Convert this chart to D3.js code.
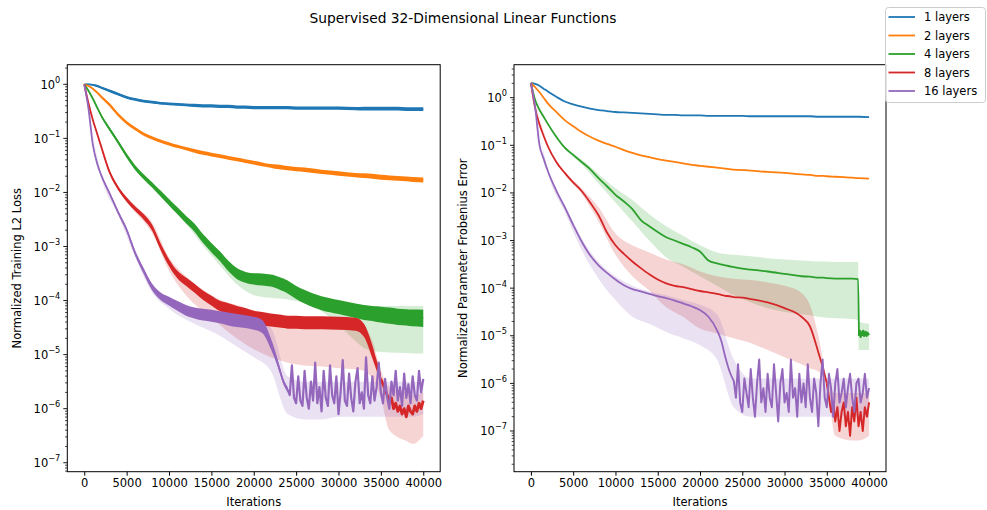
<!DOCTYPE html>
<html>
<head>
<meta charset="utf-8">
<script src="https://cdn.jsdelivr.net/npm/d3@7"></script>
<style>
  body { margin: 0; background: #fff; }
  text { font-family: "DejaVu Sans", sans-serif; fill: #000; }
</style>
</head>
<body>
<svg id="chart" width="987" height="510"></svg>
<script>
// all curve values are log10 exponents

const layerNames = ["1 layers", "2 layers", "4 layers", "8 layers", "16 layers"];
const colors = ["#1f77b4", "#ff7f0e", "#2ca02c", "#d62728", "#9467bd"];

// iteration grid of the mean curves
const iters = [
  0, 500, 1000, 1500, 2000,
  3000, 4000, 5000, 6000, 7000, 8000, 9000, 10000, 11000, 12000,
  13000, 14000, 15000, 16000, 17000, 18000, 19000, 20000, 21000, 22000,
  22500, 23000, 23500, 24000, 25000, 26000, 28000, 30000, 32000,
  33000, 34000, 34500, 35000, 36000, 37000, 38000, 38700, 38800, 40000
];
// iteration grid of the shaded bands
const bandIters = [
  0, 2000, 4000, 6000, 8000,
  10000, 12000, 14000, 16000, 18000,
  20000, 22000, 24000, 26000, 28000,
  30000, 32000, 33000, 34000, 35000,
  36000, 38000, 38700, 38800, 40000
];

// ---- left: training loss ----
const loss1 = [
  0, 0, -0.01, -0.03, -0.06,
  -0.12, -0.18, -0.24, -0.28, -0.31, -0.33, -0.35, -0.36, -0.37, -0.38,
  -0.39, -0.40, -0.40, -0.41, -0.41, -0.42, -0.42, -0.43, -0.43, -0.43,
  -0.43, -0.43, -0.43, -0.43, -0.44, -0.44, -0.44, -0.44, -0.45,
  -0.45, -0.45, -0.45, -0.45, -0.45, -0.45, -0.46, -0.46, -0.46, -0.46
];
const loss2 = [
  0, -0.03, -0.08, -0.15, -0.23,
  -0.38, -0.56, -0.71, -0.82, -0.92, -0.99, -1.05, -1.10, -1.15, -1.19,
  -1.23, -1.27, -1.30, -1.33, -1.36, -1.39, -1.42, -1.45, -1.48, -1.51,
  -1.52, -1.53, -1.54, -1.55, -1.57, -1.58, -1.62, -1.65, -1.68,
  -1.69, -1.70, -1.71, -1.72, -1.73, -1.74, -1.75, -1.76, -1.76, -1.77
];
const loss4 = [
  0, -0.12, -0.26, -0.42, -0.58,
  -0.83, -1.07, -1.32, -1.54, -1.71, -1.86, -2.02, -2.18, -2.34, -2.50,
  -2.65, -2.85, -3.02, -3.18, -3.36, -3.50, -3.57, -3.60, -3.61, -3.63,
  -3.65, -3.68, -3.71, -3.75, -3.85, -3.93, -4.05, -4.12, -4.19,
  -4.22, -4.24, -4.25, -4.26, -4.28, -4.30, -4.31, -4.32, -4.32, -4.33
];
const loss8 = [
  0, -0.35, -0.65, -0.90, -1.15,
  -1.63, -1.92, -2.13, -2.30, -2.45, -2.65, -3.00, -3.30, -3.52, -3.65,
  -3.77, -3.90, -4.00, -4.10, -4.15, -4.20, -4.25, -4.30, -4.33, -4.36,
  -4.37, -4.38, -4.39, -4.40, -4.40, -4.41, -4.41, -4.42, -4.44,
  -4.55, -4.95, -5.20, -5.45, null, null, null, null, null, null
];
const loss16 = [
  0, -0.45, -1.10, -1.45, -1.68,
  -2.02, -2.37, -2.69, -3.12, -3.45, -3.75, -3.92, -4.01, -4.10, -4.18,
  -4.23, -4.26, -4.28, -4.31, -4.34, -4.37, -4.39, -4.42, -4.48, -4.79,
  -5.00, -5.25, -5.50, -5.65, null, null, null, null, null,
  null, null, null, null, null, null, null, null, null, null
];
// half width (decades) of the jittery training trace
const lossJitter1 = [
  0.005, 0.01, 0.015, 0.02, 0.02,
  0.025, 0.025, 0.025, 0.025, 0.025, 0.025, 0.025, 0.025, 0.025, 0.025,
  0.03, 0.03, 0.03, 0.03, 0.03, 0.03, 0.03, 0.03, 0.03, 0.03,
  0.03, 0.03, 0.03, 0.03, 0.03, 0.03, 0.03, 0.03, 0.03,
  0.035, 0.035, 0.035, 0.035, 0.035, 0.035, 0.035, 0.035, 0.035, 0.035
];
const lossJitter2 = [
  0.005, 0.01, 0.015, 0.02, 0.025,
  0.03, 0.03, 0.03, 0.03, 0.03, 0.03, 0.03, 0.03, 0.03, 0.03,
  0.035, 0.035, 0.035, 0.035, 0.035, 0.035, 0.035, 0.035, 0.035, 0.035,
  0.04, 0.04, 0.04, 0.04, 0.04, 0.04, 0.04, 0.04, 0.04,
  0.045, 0.045, 0.045, 0.045, 0.045, 0.045, 0.045, 0.045, 0.045, 0.045
];
const lossJitter4 = [
  0.005, 0.01, 0.015, 0.02, 0.025,
  0.03, 0.035, 0.04, 0.045, 0.045, 0.05, 0.055, 0.06, 0.065, 0.07,
  0.075, 0.08, 0.085, 0.09, 0.095, 0.1, 0.1, 0.105, 0.11, 0.11,
  0.115, 0.115, 0.12, 0.12, 0.12, 0.125, 0.13, 0.13, 0.135,
  0.14, 0.14, 0.145, 0.145, 0.15, 0.15, 0.15, 0.155, 0.155, 0.16
];
const lossJitter8 = [
  0.005, 0.01, 0.015, 0.02, 0.025,
  0.03, 0.035, 0.04, 0.045, 0.05, 0.055, 0.06, 0.065, 0.07, 0.075,
  0.08, 0.085, 0.09, 0.095, 0.1, 0.1, 0.11, 0.11, 0.12, 0.12,
  0.12, 0.12, 0.12, 0.12, 0.12, 0.12, 0.12, 0.12, 0.12,
  0.12, 0.12, 0.1, 0.1, 0, 0, 0, 0, 0, 0
];
const lossJitter16 = [
  0.005, 0.01, 0.015, 0.02, 0.02,
  0.025, 0.03, 0.035, 0.04, 0.05, 0.06, 0.07, 0.08, 0.09, 0.1,
  0.1, 0.11, 0.11, 0.11, 0.12, 0.12, 0.12, 0.12, 0.12, 0.1,
  0.08, 0.06, 0.05, 0.05, 0, 0, 0, 0, 0,
  0, 0, 0, 0, 0, 0, 0, 0, 0, 0
];
// noisy tails, one value every 250 iterations
const lossTail16 = [
  -5.65, -5.75, -5.2, -5.8, -5.9, -5.4, -5.85, -5.95, -5.3, -5.8,
  -6.0, -5.5, -5.85, -5.15, -5.9, -5.6, -6.05, -5.3, -5.8, -5.95,
  -5.2, -5.75, -5.9, -5.4, -6.1, -5.7, -5.1, -5.85, -5.95, -5.35,
  -5.8, -6.05, -5.5, -5.25, -5.9, -5.7, -6.0, -5.05, -5.75, -5.9,
  -5.4, -5.85, -5.6, -5.15, -5.7, -5.9, -5.45, -5.8, -6.0, -5.5,
  -5.75, -5.3, -5.85, -5.6, -5.95, -5.35, -5.8, -5.55, -5.9, -5.4,
  -5.75, -5.85, -5.3, -5.7, -5.45
];
const lossTail8 = [
  -5.45, -5.55, -5.65, -5.75, -5.85, -5.8, -6.0, -5.9, -6.05, -5.95,
  -6.1, -6.0, -6.15, -5.95, -6.05, -6.1, -5.95, -6.05, -5.9, -6.0, -5.85
];
// shaded bands
const lossBand4Lo = [0, -0.6, -1.1, -1.57, -1.9, -2.22, -2.58, -2.98, -3.35, -3.7, -3.9, -3.95, -3.98, -4.05, -4.2, -4.45, -4.75, -4.88, -4.93, -4.95, -4.96, -4.97, -4.98, -4.98, -4.98];
const lossBand4Hi = [0, -0.56, -1.04, -1.5, -1.82, -2.14, -2.45, -2.78, -3.1, -3.4, -3.5, -3.55, -3.65, -3.8, -3.95, -4.02, -4.08, -4.1, -4.1, -4.1, -4.1, -4.1, -4.1, -4.1, -4.1];
const lossBand8Lo = [0, -1.22, -1.96, -2.36, -2.75, -3.45, -3.9, -4.2, -4.45, -4.7, -4.9, -5.05, -5.15, -5.2, -5.22, -5.25, -5.27, -5.3, -5.45, -5.8, -6.4, -6.6, -6.65, -6.65, -6.5];
const lossBand8Hi = [0, -1.17, -1.88, -2.24, -2.55, -3.2, -3.55, -3.8, -3.98, -4.08, -4.18, -4.25, -4.3, -4.32, -4.33, -4.34, -4.35, -4.45, -4.75, -5.3, -5.6, -5.7, -5.75, -5.75, -5.7];
const lossBand16Lo = [0, -1.72, -2.42, -3.2, -3.85, -4.15, -4.35, -4.5, -4.65, -4.85, -5.05, -5.3, -6.1, -6.2, -6.2, -6.15, -6.15, -6.15, -6.15, -6.15, -6.15, -6.15, -6.15, -6.15, -6.1];
const lossBand16Hi = [0, -1.65, -2.32, -3.05, -3.68, -3.95, -4.1, -4.2, -4.26, -4.3, -4.35, -4.5, -5.4, -5.5, -5.5, -5.5, -5.5, -5.5, -5.5, -5.5, -5.5, -5.5, -5.5, -5.5, -5.5];

// ---- right: parameter error ----
const err1 = [
  0.31, 0.29, 0.25, 0.19, 0.13,
  0.02, -0.08, -0.14, -0.19, -0.23, -0.26, -0.28, -0.30, -0.31, -0.32,
  -0.33, -0.34, -0.35, -0.36, -0.36, -0.37, -0.37, -0.37, -0.38, -0.38,
  -0.38, -0.38, -0.38, -0.38, -0.38, -0.39, -0.39, -0.39, -0.39,
  -0.39, -0.40, -0.40, -0.40, -0.40, -0.40, -0.40, -0.40, -0.40, -0.41
];
const err2 = [
  0.31, 0.22, 0.12, 0.00, -0.12,
  -0.30, -0.47, -0.60, -0.72, -0.82, -0.90, -0.97, -1.03, -1.10, -1.16,
  -1.21, -1.25, -1.29, -1.32, -1.35, -1.38, -1.41, -1.43, -1.45, -1.47,
  -1.48, -1.49, -1.50, -1.51, -1.52, -1.53, -1.56, -1.58, -1.61,
  -1.62, -1.64, -1.64, -1.65, -1.66, -1.67, -1.68, -1.69, -1.69, -1.70
];
const err4 = [
  0.31, -0.05, -0.25, -0.40, -0.55,
  -0.82, -1.05, -1.20, -1.35, -1.50, -1.69, -1.86, -2.04, -2.18, -2.34,
  -2.57, -2.70, -2.82, -2.93, -3.00, -3.07, -3.14, -3.23, -3.42, -3.48,
  -3.50, -3.52, -3.54, -3.56, -3.59, -3.61, -3.65, -3.70, -3.75,
  -3.76, -3.78, -3.78, -3.79, -3.80, -3.80, -3.80, -3.81, -5.00, null
];
const err8 = [
  0.31, -0.22, -0.55, -0.80, -1.02,
  -1.35, -1.58, -1.78, -1.96, -2.20, -2.47, -2.83, -3.10, -3.28, -3.44,
  -3.58, -3.71, -3.82, -3.90, -3.95, -3.98, -4.02, -4.06, -4.09, -4.12,
  -4.14, -4.16, -4.17, -4.19, -4.20, -4.23, -4.30, -4.42, -4.60,
  -4.80, -5.35, -5.65, -6.00, null, null, null, null, null, null
];
const err16 = [
  0.31, -0.20, -0.98, -1.28, -1.54,
  -1.95, -2.30, -2.67, -3.02, -3.31, -3.52, -3.68, -3.82, -3.94, -4.02,
  -4.07, -4.12, -4.17, -4.21, -4.26, -4.32, -4.38, -4.46, -4.60, -4.88,
  -5.10, -5.45, -5.75, -5.95, null, null, null, null, null,
  null, null, null, null, null, null, null, null, null, null
];
const errTail16 = [
  -5.95, -6.3, -5.6, -6.4, -6.6, -5.9, -6.2, -6.5, -5.7, -6.3,
  -6.7, -6.0, -5.5, -6.4, -6.1, -6.6, -5.8, -6.3, -6.5, -5.6,
  -6.2, -6.8, -6.0, -5.7, -6.4, -6.2, -6.6, -5.5, -6.3, -6.1,
  -6.7, -5.8, -6.4, -6.0, -6.5, -5.6, -6.3, -6.6, -5.9, -6.2,
  -6.9, -6.0, -5.5, -6.3, -6.5, -5.8, -6.1, -6.7, -6.0, -5.7,
  -6.4, -6.2, -5.9, -6.5, -6.1, -5.8, -6.3, -6.6, -6.0, -5.9,
  -6.4, -6.2, -5.8, -6.3, -6.1
];
const errTail8 = [
  -6.0, -6.3, -6.6, -6.4, -6.8, -6.5, -7.0, -6.6, -6.4, -6.9,
  -6.6, -7.1, -6.5, -6.8, -6.3, -6.9, -6.6, -7.0, -6.5, -6.7, -6.4
];
// green after its drop, every 100 iterations
const errTail4 = [-5.0, -4.9, -5.02, -4.93, -4.98, -4.9, -5.0, -4.95, -4.92, -5.0, -4.94, -4.97, -4.95];
const errBand4Lo = [0.31, -0.57, -1.08, -1.4, -1.8, -2.2, -2.6, -3.0, -3.35, -3.55, -3.75, -3.95, -4.15, -4.3, -4.42, -4.5, -4.55, -4.57, -4.6, -4.62, -4.63, -4.65, -4.67, -5.3, -5.3];
const errBand4Hi = [0.31, -0.53, -1.02, -1.3, -1.6, -1.9, -2.15, -2.45, -2.7, -2.9, -3.1, -3.25, -3.3, -3.33, -3.37, -3.4, -3.42, -3.43, -3.44, -3.44, -3.45, -3.45, -3.45, -4.7, -4.75];
const errBand8Lo = [0.31, -1.0, -1.62, -2.02, -2.6, -3.3, -3.75, -4.05, -4.4, -4.6, -4.85, -4.95, -5.05, -5.15, -5.3, -5.45, -5.6, -5.68, -5.75, -6.0, -7.1, -7.2, -7.2, -7.2, -7.1];
const errBand8Hi = [0.31, -0.96, -1.55, -1.9, -2.3, -2.85, -3.1, -3.25, -3.4, -3.5, -3.65, -3.75, -3.8, -3.83, -3.88, -3.95, -4.1, -4.35, -5.0, -5.9, -6.2, -6.2, -6.2, -6.2, -6.2];
const errBand16Lo = [0.31, -1.58, -2.4, -3.2, -3.8, -4.25, -4.6, -4.75, -4.92, -5.05, -5.2, -5.5, -6.5, -6.7, -6.7, -6.7, -6.7, -6.7, -6.7, -6.7, -6.7, -6.7, -6.7, -6.7, -6.7];
const errBand16Hi = [0.31, -1.5, -2.25, -2.95, -3.45, -3.75, -3.95, -4.07, -4.15, -4.25, -4.35, -4.55, -5.5, -5.9, -5.9, -5.9, -5.9, -5.9, -5.9, -5.9, -5.9, -5.9, -5.9, -5.9, -5.9];

const xTicks = [0, 5000, 10000, 15000, 20000, 25000, 30000, 35000, 40000];

const svg = d3.select("#chart");
const axTop = 64.7, axBottom = 471.7;

const panels = [
  {
    id: "clipL", left: 67.3, right: 440.2, yExp: [-7.166, 0.363],
    ylabel: "Normalized Training L2 Loss", ylabelX: 17,
    series: [
      { mean: loss1, jitter: lossJitter1 },
      { mean: loss2, jitter: lossJitter2 },
      { mean: loss4, jitter: lossJitter4 },
      { mean: loss8, jitter: lossJitter8, tail: lossTail8, tailIters: d3.range(35000, 40001, 250), tailWidth: 2.8 },
      { mean: loss16, jitter: lossJitter16, tail: lossTail16, tailIters: d3.range(24000, 40001, 250), tailWidth: 2.2 }
    ],
    bands: [
      { c: 2, lo: lossBand4Lo, hi: lossBand4Hi },
      { c: 3, lo: lossBand8Lo, hi: lossBand8Hi },
      { c: 4, lo: lossBand16Lo, hi: lossBand16Hi }
    ]
  },
  {
    id: "clipR", left: 514, right: 886, yExp: [-7.855, 0.693],
    ylabel: "Normalized Parameter Frobenius Error", ylabelX: 463,
    series: [
      { mean: err1 },
      { mean: err2 },
      { mean: err4, tail: errTail4, tailIters: d3.range(38800, 40001, 100), tailWidth: 2.4 },
      { mean: err8, tail: errTail8, tailIters: d3.range(35000, 40001, 250), tailWidth: 2 },
      { mean: err16, tail: errTail16, tailIters: d3.range(24000, 40001, 250), tailWidth: 2 }
    ],
    bands: [
      { c: 2, lo: errBand4Lo, hi: errBand4Hi },
      { c: 3, lo: errBand8Lo, hi: errBand8Hi },
      { c: 4, lo: errBand16Lo, hi: errBand16Hi }
    ]
  }
];

panels.forEach(p => {
  const x = d3.scaleLinear().domain([-2000, 42000]).range([p.left, p.right]);
  const y = d3.scaleLog().domain([Math.pow(10, p.yExp[0]), Math.pow(10, p.yExp[1])]).range([axBottom, axTop]);
  const ye = v => y(Math.pow(10, v));

  svg.append("clipPath").attr("id", p.id)
    .append("rect").attr("x", p.left).attr("y", axTop)
    .attr("width", p.right - p.left).attr("height", axBottom - axTop);
  const plot = svg.append("g").attr("clip-path", "url(#" + p.id + ")");

  // bands go under every line
  p.bands.forEach(b => {
    const pts = bandIters.map((it, i) => [it, b.lo[i], b.hi[i]]);
    plot.append("path").datum(pts)
      .attr("fill", colors[b.c]).attr("fill-opacity", 0.2)
      .attr("d", d3.area().x(d => x(d[0])).y0(d => ye(d[1])).y1(d => ye(d[2])).curve(d3.curveMonotoneX));
  });

  p.series.forEach((s, k) => {
    const pts = iters.map((it, i) => [it, s.mean[i], s.jitter ? s.jitter[i] : 0]).filter(d => d[1] != null);
    if (s.jitter) {
      plot.append("path").datum(pts)
        .attr("fill", colors[k])
        .attr("d", d3.area().x(d => x(d[0]))
          .y0(d => ye(d[1] - d[2])).y1(d => ye(d[1] + d[2])).curve(d3.curveMonotoneX));
    }
    plot.append("path").datum(pts)
      .attr("fill", "none").attr("stroke", colors[k]).attr("stroke-width", 1.8)
      .attr("stroke-linejoin", "round")
      .attr("d", d3.line().x(d => x(d[0])).y(d => ye(d[1])).curve(d3.curveMonotoneX));
    if (s.tail) {
      const tp = s.tailIters.map((it, i) => [it, s.tail[i]]);
      plot.append("path").datum(tp)
        .attr("fill", "none").attr("stroke", colors[k]).attr("stroke-width", s.tailWidth)
        .attr("stroke-linejoin", "round")
        .attr("d", d3.line().x(d => x(d[0])).y(d => ye(d[1])));
    }
  });

  // x axis
  const xa = svg.append("g").attr("transform", "translate(0," + axBottom + ")")
    .call(d3.axisBottom(x).tickValues(xTicks).tickSize(4).tickPadding(3).tickFormat(d3.format("d")));
  xa.select(".domain").remove();
  xa.selectAll("text").attr("font-size", 11.5).attr("font-family", "DejaVu Sans");
  xa.selectAll("line").attr("stroke", "#000");

  // y axis, log decades plus minor ticks
  const decades = d3.range(-8, 2).filter(k => k >= p.yExp[0] && k <= p.yExp[1]);
  const minors = [];
  d3.range(-8, 1).forEach(k => d3.range(2, 10).forEach(m => {
    const v = Math.log10(m) + k;
    if (v >= p.yExp[0] && v <= p.yExp[1]) minors.push(v);
  }));
  const ya = svg.append("g");
  ya.selectAll("line.minor").data(minors).join("line").attr("class", "minor")
    .attr("x1", p.left - 2.3).attr("x2", p.left)
    .attr("y1", d => ye(d)).attr("y2", d => ye(d))
    .attr("stroke", "#000").attr("stroke-width", 0.7);
  ya.selectAll("line.major").data(decades).join("line").attr("class", "major")
    .attr("x1", p.left - 4).attr("x2", p.left)
    .attr("y1", d => ye(d)).attr("y2", d => ye(d))
    .attr("stroke", "#000").attr("stroke-width", 0.9);
  const lab = ya.selectAll("text").data(decades).join("text")
    .attr("x", p.left - 7).attr("y", d => ye(d) + 4.5)
    .attr("text-anchor", "end").attr("font-size", 11.5);
  lab.append("tspan").text("10");
  lab.append("tspan").attr("dy", -6).attr("font-size", 8.2)
    .text(d => (d < 0 ? "\u2212" + (-d) : d));

  // frame
  svg.append("rect").attr("x", p.left).attr("y", axTop)
    .attr("width", p.right - p.left).attr("height", axBottom - axTop)
    .attr("fill", "none").attr("stroke", "#000").attr("stroke-width", 1);

  svg.append("text").attr("x", (p.left + p.right) / 2).attr("y", 506)
    .attr("text-anchor", "middle").attr("font-size", 11.5).text("Iterations");
  svg.append("text")
    .attr("transform", "translate(" + p.ylabelX + "," + ((axTop + axBottom) / 2) + ") rotate(-90)")
    .attr("text-anchor", "middle").attr("dominant-baseline", "central")
    .attr("font-size", 11.5).text(p.ylabel);
});

svg.append("text").attr("x", 463).attr("y", 23).attr("text-anchor", "middle")
  .attr("font-size", 13.8).text("Supervised 32-Dimensional Linear Functions");

// figure legend
const leg = svg.append("g");
leg.append("rect").attr("x", 885.5).attr("y", 7.5).attr("width", 100).attr("height", 95)
  .attr("rx", 3).attr("fill", "#fff").attr("fill-opacity", 0.8)
  .attr("stroke", "#cccccc").attr("stroke-width", 1);
const rows = leg.selectAll("g.row").data(layerNames).join("g")
  .attr("transform", (d, i) => "translate(0," + (17 + i * 18.5) + ")");
rows.append("line").attr("x1", 888.5).attr("x2", 915).attr("y1", 0).attr("y2", 0)
  .attr("stroke", (d, i) => colors[i]).attr("stroke-width", 1.8);
rows.append("text").attr("x", 924).attr("y", 4.2).attr("font-size", 11.5).text(d => d);
</script>
</body>
</html>
